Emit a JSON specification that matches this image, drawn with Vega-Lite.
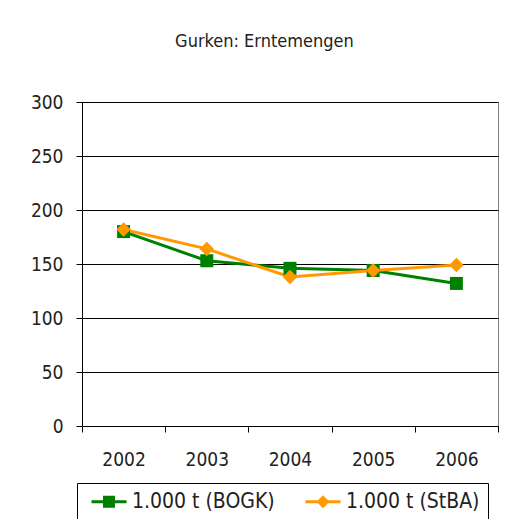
{
  "$schema": "https://vega.github.io/schema/vega-lite/v6.json",
  "autosize": "none",
  "width": 416,
  "height": 324,
  "padding": {"left": 82, "top": 102, "right": 14, "bottom": 93},
  "background": "white",
  "title": {
    "text": "Gurken: Erntemengen",
    "fontSize": 18,
    "fontWeight": "normal",
    "font": "Liberation Sans Narrow, DejaVu Sans Condensed, sans-serif",
    "color": "#222222",
    "anchor": "middle",
    "frame": "bounds",
    "offset": 42
  },
  "config": {
    "font": "Liberation Sans Narrow, DejaVu Sans Condensed, sans-serif",
    "view": {"stroke": "#808080", "strokeWidth": 1}
  },
  "data": {
    "values": [
      {"Jahr": "2002", "Serie": "1.000 t (BOGK)", "Wert": 180},
      {"Jahr": "2003", "Serie": "1.000 t (BOGK)", "Wert": 153},
      {"Jahr": "2004", "Serie": "1.000 t (BOGK)", "Wert": 146},
      {"Jahr": "2005", "Serie": "1.000 t (BOGK)", "Wert": 144},
      {"Jahr": "2006", "Serie": "1.000 t (BOGK)", "Wert": 132},
      {"Jahr": "2002", "Serie": "1.000 t (StBA)", "Wert": 182},
      {"Jahr": "2003", "Serie": "1.000 t (StBA)", "Wert": 164},
      {"Jahr": "2004", "Serie": "1.000 t (StBA)", "Wert": 138},
      {"Jahr": "2005", "Serie": "1.000 t (StBA)", "Wert": 144},
      {"Jahr": "2006", "Serie": "1.000 t (StBA)", "Wert": 149}
    ]
  },
  "encoding": {
    "x": {
      "field": "Jahr",
      "type": "ordinal",
      "scale": {"type": "band", "paddingInner": 0, "paddingOuter": 0},
      "axis": {
        "title": null,
        "labelAngle": 0,
        "labelFontSize": 19,
        "labelColor": "#222222",
        "labelPadding": 18,
        "tickBand": "extent",
        "tickSize": 6,
        "tickColor": "#000000",
        "domainColor": "#000000",
        "grid": false
      }
    },
    "y": {
      "field": "Wert",
      "type": "quantitative",
      "scale": {"domain": [0, 300], "nice": false},
      "axis": {
        "title": null,
        "values": [0, 50, 100, 150, 200, 250, 300],
        "labelFontSize": 19,
        "labelColor": "#222222",
        "labelPadding": 13,
        "tickSize": 6,
        "tickColor": "#000000",
        "domainColor": "#000000",
        "grid": true,
        "gridColor": "#000000",
        "gridOpacity": 1
      }
    },
    "color": {
      "field": "Serie",
      "type": "nominal",
      "scale": {"domain": ["1.000 t (BOGK)", "1.000 t (StBA)"], "range": ["#008000", "#FF9900"]}
    }
  },
  "layer": [
    {
      "mark": {"type": "line", "strokeWidth": 3},
      "encoding": {
        "color": {
          "field": "Serie",
          "type": "nominal",
          "scale": {"domain": ["1.000 t (BOGK)", "1.000 t (StBA)"], "range": ["#008000", "#FF9900"]},
          "legend": {
            "title": null,
            "orient": "none",
            "legendX": -5,
            "legendY": 381,
            "direction": "horizontal",
            "strokeColor": "#000000",
            "fillColor": "white",
            "padding": 8,
            "labelFontSize": 21,
            "labelColor": "#222222",
            "labelOffset": 26,
            "columnPadding": 24,
            "symbolSize": 400,
            "symbolStrokeWidth": 0,
            "encode": {
              "symbols": {
                "update": {
                  "shape": {"signal": "datum.value == '1.000 t (BOGK)' ? 'M-0.4,-0.15H3.1V0.15H-0.4Z M0.75,-0.6H1.95V0.6H0.75Z' : 'M-0.4,-0.15H3.1V0.15H-0.4Z M1.35,-0.65L2,0L1.35,0.65L0.7,0Z'"},
                  "fill": {"signal": "datum.value == '1.000 t (BOGK)' ? '#008000' : '#FF9900'"},
                  "fillOpacity": {"value": 1},
                  "strokeWidth": {"value": 0}
                }
              }
            }
          }
        }
      }
    },
    {
      "transform": [{"filter": "datum.Serie == '1.000 t (BOGK)'"}],
      "mark": {"type": "point", "filled": true, "opacity": 1, "shape": "square", "size": 169}
    },
    {
      "transform": [{"filter": "datum.Serie == '1.000 t (StBA)'"}],
      "mark": {"type": "point", "filled": true, "opacity": 1, "shape": "diamond", "size": 210}
    }
  ]
}
